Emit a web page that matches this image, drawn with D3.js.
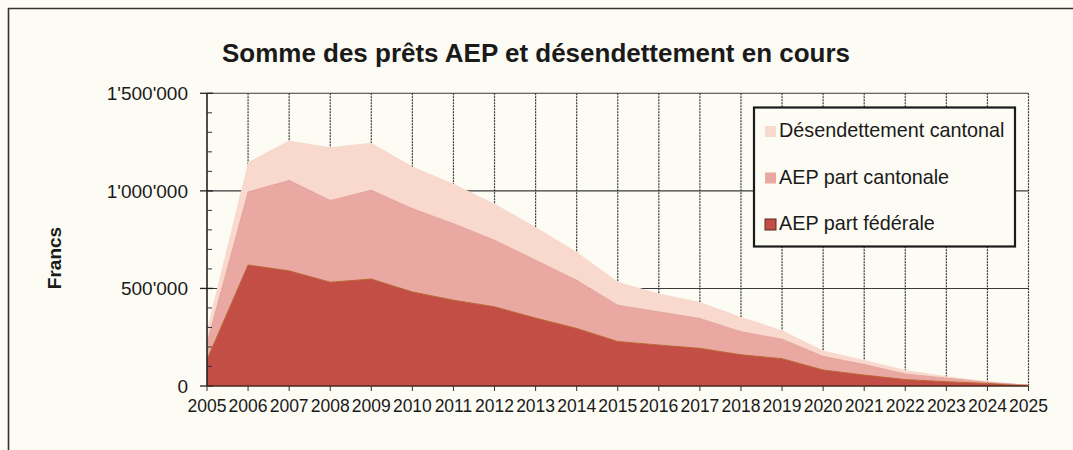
<!DOCTYPE html>
<html>
<head>
<meta charset="utf-8">
<script src="https://cdn.jsdelivr.net/npm/d3@7"></script>
<style>
  html, body { margin: 0; padding: 0; background: #fcfbf4; }
  svg { display: block; font-family: "Liberation Sans", Arial, sans-serif; }
</style>
</head>
<body>
<svg id="chart" width="1073" height="450"></svg>
<script>
// Years on the x axis
const years = [2005, 2006, 2007, 2008, 2009, 2010, 2011, 2012, 2013, 2014, 2015,
               2016, 2017, 2018, 2019, 2020, 2021, 2022, 2023, 2024, 2025];

// Outstanding amounts per series (francs), stacked bottom to top
const aepFederale = [135000, 620000, 590000, 532000, 548000, 482000, 440000, 406000, 348000, 295000, 228000,
                     210000, 193000, 160000, 140000, 82000, 56000, 33000, 22000, 13000, 4000];
const aepCantonale = [85000, 374000, 464000, 419000, 455000, 427000, 392000, 341000, 297000, 247000, 186000,
                      170000, 153000, 118000, 100000, 70000, 54000, 29000, 18000, 6000, 0];
const desendettement = [70000, 153000, 204000, 273000, 244000, 216000, 205000, 187000, 170000, 145000, 120000,
                        94000, 85000, 76000, 46000, 30000, 23000, 20000, 10000, 5000, 1000];

const seriesNames = ["AEP part fédérale", "AEP part cantonale", "Désendettement cantonal"];
const seriesColors = ["#c24e45", "#e9a8a1", "#f9d9cd"];
const yTicks = [0, 500000, 1000000, 1500000];
const yTickLabels = ["0", "500'000", "1'000'000", "1'500'000"];

const svg = d3.select("#chart");
const bg = "#fcfbf4";

const x = d3.scaleLinear().domain([2005, 2025]).range([207, 1028.5]);
const y = d3.scaleLinear().domain([0, 1500000]).range([386, 93.3]);

// Outer frame (top and left edges)
svg.append("path")
  .attr("d", "M8.5,450 L8.5,8.5 L1073,8.5")
  .attr("fill", "none").attr("stroke", "#333").attr("stroke-width", 1.6);

// Title
svg.append("text")
  .attr("x", 222).attr("y", 62)
  .attr("textLength", 628).attr("lengthAdjust", "spacingAndGlyphs")
  .attr("font-size", 25).attr("font-weight", "bold").attr("fill", "#1a1a1a")
  .text("Somme des prêts AEP et désendettement en cours");

// Y axis title
svg.append("text")
  .attr("transform", "translate(61,258) rotate(-90)")
  .attr("text-anchor", "middle")
  .attr("font-size", 19).attr("font-weight", "bold").attr("fill", "#1a1a1a")
  .text("Francs");

// Grid: vertical dotted lines at each year, horizontal solid lines at major ticks
const grid = svg.append("g");
grid.selectAll("line.v").data(years.slice(1)).join("line")
  .attr("x1", d => x(d)).attr("x2", d => x(d))
  .attr("y1", y(1500000)).attr("y2", y(0))
  .attr("stroke", "#3a3a3a").attr("stroke-width", 1.2).attr("stroke-dasharray", "2,1");
grid.selectAll("line.h").data(yTicks.slice(1)).join("line")
  .attr("x1", x(2005)).attr("x2", x(2025))
  .attr("y1", d => y(d)).attr("y2", d => y(d))
  .attr("stroke", "#3a3a3a").attr("stroke-width", 1.1);

// Stacked areas
const table = years.map((yr, i) => ({
  year: yr,
  [seriesNames[0]]: aepFederale[i],
  [seriesNames[1]]: aepCantonale[i],
  [seriesNames[2]]: desendettement[i]
}));
const stacked = d3.stack().keys(seriesNames)(table);
const area = d3.area()
  .x(d => x(d.data.year))
  .y0(d => y(d[0]))
  .y1(d => y(d[1]));

svg.append("g").selectAll("path").data(stacked).join("path")
  .attr("d", area)
  .attr("fill", (d, i) => seriesColors[i]);

// Thin edges along the layer tops
const topLine = d3.line().x(d => x(d.data.year)).y(d => y(d[1]));
svg.append("path").datum(stacked[0]).attr("d", topLine)
  .attr("fill", "none").attr("stroke", "#b8642e").attr("stroke-width", 1);
svg.append("path").datum(stacked[1]).attr("d", topLine)
  .attr("fill", "none").attr("stroke", "#e09c95").attr("stroke-width", 0.8);

// Y axis
const yAxisG = svg.append("g");
yAxisG.append("line")
  .attr("x1", x(2005)).attr("x2", x(2005))
  .attr("y1", y(1500000)).attr("y2", y(0))
  .attr("stroke", "#222").attr("stroke-width", 1.6);
const minor = d3.range(100000, 1500000, 100000).filter(v => v % 500000 !== 0);
yAxisG.selectAll("line.minor").data(minor).join("line")
  .attr("x1", x(2005)).attr("x2", x(2005) + 5)
  .attr("y1", d => y(d)).attr("y2", d => y(d))
  .attr("stroke", "#333").attr("stroke-width", 1);
yAxisG.selectAll("line.major").data(yTicks).join("line")
  .attr("x1", x(2005) - 7).attr("x2", x(2005) + 6)
  .attr("y1", d => y(d)).attr("y2", d => y(d))
  .attr("stroke", "#222").attr("stroke-width", 1.3);
yAxisG.selectAll("text").data(yTicks).join("text")
  .attr("x", 188).attr("y", d => y(d)).attr("dy", "0.36em")
  .attr("text-anchor", "end").attr("font-size", 19).attr("fill", "#1a1a1a")
  .text((d, i) => yTickLabels[i]);

// X axis
const xAxisG = svg.append("g");
xAxisG.append("line")
  .attr("x1", x(2005)).attr("x2", x(2025))
  .attr("y1", y(0)).attr("y2", y(0))
  .attr("stroke", "#4a2a20").attr("stroke-width", 1.6);
xAxisG.selectAll("line.t").data(years).join("line")
  .attr("x1", d => x(d)).attr("x2", d => x(d))
  .attr("y1", y(0)).attr("y2", y(0) + 5)
  .attr("stroke", "#333").attr("stroke-width", 1);
xAxisG.selectAll("text").data(years).join("text")
  .attr("x", d => x(d)).attr("y", 412)
  .attr("text-anchor", "middle").attr("font-size", 17.5).attr("fill", "#1a1a1a")
  .text(d => d);

// Legend
const legend = svg.append("g");
legend.append("rect")
  .attr("x", 754).attr("y", 107.5).attr("width", 261).attr("height", 139)
  .attr("fill", bg).attr("stroke", "#1a1a1a").attr("stroke-width", 2.2);
const legendOrder = [2, 1, 0];
const legendBaselines = [137, 183.5, 230];
legendOrder.forEach((s, k) => {
  legend.append("rect")
    .attr("x", 765).attr("y", legendBaselines[k] - 11)
    .attr("width", 11).attr("height", 11)
    .attr("fill", seriesColors[s])
    .attr("stroke", s === 0 ? "#5a2a22" : "none").attr("stroke-width", 1);
  legend.append("text")
    .attr("x", 779).attr("y", legendBaselines[k])
    .attr("font-size", 19.8).attr("fill", "#1a1a1a")
    .text(seriesNames[s]);
});
</script>
</body>
</html>
